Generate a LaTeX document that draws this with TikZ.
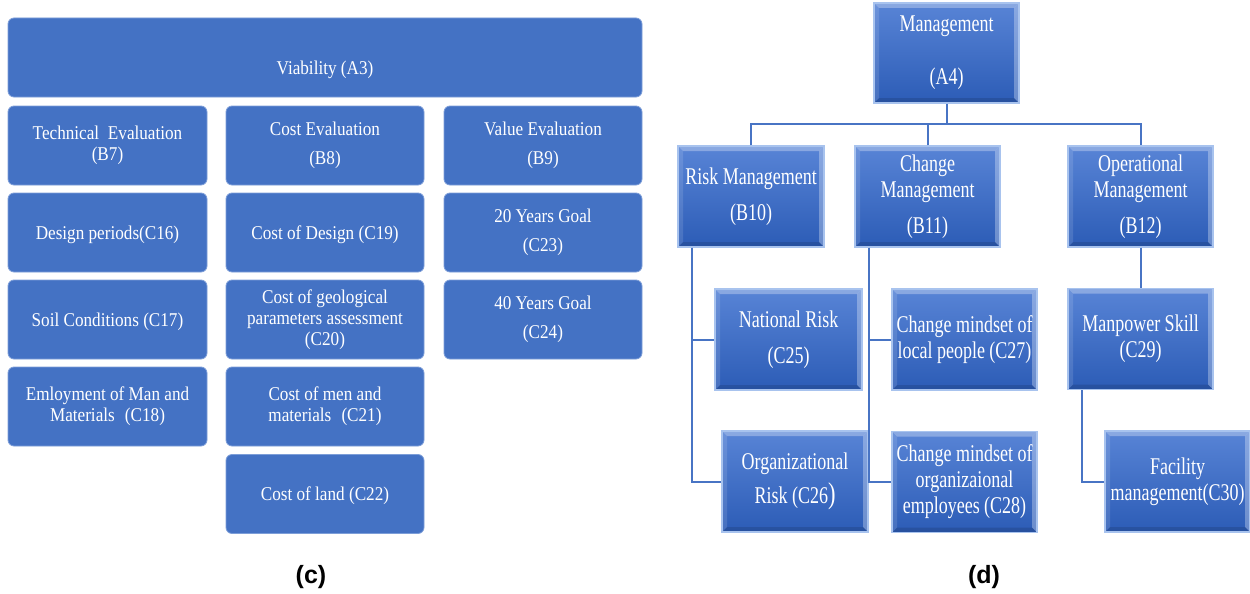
\documentclass[tikz,border=0pt]{standalone}
\usepackage{fontspec}
\setmainfont{Liberation Serif}
\newfontfamily\narrowserif[FakeStretch=0.88]{Liberation Serif}
\newfontfamily\condserif[FakeStretch=0.75]{Liberation Serif}
\newfontfamily\capsans{Liberation Sans}

\definecolor{officeblue}{RGB}{68,114,196}
\definecolor{flatedge}{RGB}{125,158,216}
\definecolor{bevtop}{RGB}{88,132,214}
\definecolor{bevbot}{RGB}{44,92,182}
\definecolor{bevedge}{RGB}{168,195,238}
\definecolor{linkblue}{RGB}{72,116,196}

\tikzset{
  flatbox/.style={fill=officeblue, draw=flatedge, line width=0.8pt,
    rounded corners=6pt, text=white, align=center, inner sep=0pt,
    font=\narrowserif\fontsize{19.5}{21}\selectfont,
    execute at begin node={\rule{0pt}{17.5pt}},
    minimum height=79pt},
  flatlabel/.style={text=white, align=center, inner sep=0pt,
    font=\narrowserif\fontsize{19.5}{21}\selectfont},
  bevelbox/.style={draw=bevedge, line width=1.2pt,
    top color=bevtop, bottom color=bevbot,
    text=white, align=center, inner sep=0pt,
    font=\condserif\fontsize{24}{26}\selectfont,
    execute at begin node={\rule{0pt}{19.5pt}},
    minimum width=145pt, minimum height=101pt,
    path picture={
      % light upper and left bevel faces
      \fill[white,opacity=0.30] (path picture bounding box.north west)
        -- (path picture bounding box.north east)
        -- ([xshift=-5pt,yshift=-5pt]path picture bounding box.north east)
        -- ([xshift=5pt,yshift=-5pt]path picture bounding box.north west) -- cycle;
      \fill[white,opacity=0.12] (path picture bounding box.north west)
        -- ([xshift=5pt,yshift=-5pt]path picture bounding box.north west)
        -- ([xshift=5pt,yshift=5pt]path picture bounding box.south west)
        -- (path picture bounding box.south west) -- cycle;
      % darker lower face, bright right face
      \fill[black,opacity=0.12] (path picture bounding box.south west)
        -- (path picture bounding box.south east)
        -- ([xshift=-5pt,yshift=5pt]path picture bounding box.south east)
        -- ([xshift=5pt,yshift=5pt]path picture bounding box.south west) -- cycle;
      \fill[white,opacity=0.30] (path picture bounding box.north east)
        -- (path picture bounding box.south east)
        -- ([xshift=-5pt,yshift=5pt]path picture bounding box.south east)
        -- ([xshift=-5pt,yshift=-5pt]path picture bounding box.north east) -- cycle;
    }},
  conn/.style={draw=linkblue, line width=2pt},
  caption/.style={font=\capsans\bfseries\fontsize{25}{28}\selectfont, inner sep=0pt}
}

\begin{document}
\begin{tikzpicture}[x=1pt,y=-1pt]
\useasboundingbox[fill=white] (0,0) rectangle (1250,594);

% ---------- panel (c): viability breakdown ----------
\node[flatbox, minimum width=634pt,
      label={[flatlabel,yshift=-12.5pt]center:Viability (A3)}] (a3) at (325,57.5) {};

\node[flatbox, minimum width=199pt] (b7) at (107.5,145.5) {Technical\hspace{0.45em}Evaluation\\(B7)};
\node[flatbox, minimum width=198pt] (b8) at (325,145.5) {Cost Evaluation\\[8pt](B8)};
\node[flatbox, minimum width=198pt] (b9) at (543,145.5) {Value Evaluation\\[8pt](B9)};

\node[flatbox, minimum width=199pt] (c16) at (107.5,232.5) {Design periods(C16)};
\node[flatbox, minimum width=198pt] (c19) at (325,232.5) {Cost of Design (C19)};
\node[flatbox, minimum width=198pt] (c23) at (543,232.5) {20 Years Goal\\[8pt](C23)};

\node[flatbox, minimum width=199pt] (c17) at (107.5,319.5) {Soil Conditions (C17)};
\node[flatbox, minimum width=198pt] (c20) at (325,319.5) {Cost of geological\\parameters assessment\\(C20)};
\node[flatbox, minimum width=198pt] (c24) at (543,319.5) {40 Years Goal\\[8pt](C24)};

\node[flatbox, minimum width=199pt] (c18) at (107.5,406.5) {Emloyment of Man and\\Materials\hspace{0.3em} (C18)};
\node[flatbox, minimum width=198pt] (c21) at (325,406.5) {Cost of men and\\materials\hspace{0.3em} (C21)};

\node[flatbox, minimum width=198pt] (c22) at (325,494) {Cost of land (C22)};

\node[caption] (capc) at (311,577) {(c)};

% ---------- panel (d): management hierarchy ----------
\node[bevelbox, minimum height=100pt] (a4) at (946.5,53) {Management\\[27pt](A4)};

\node[bevelbox, minimum width=146pt] (b10) at (751,196.5) {Risk Management\\[10pt](B10)};
\node[bevelbox] (b11) at (927.5,196.5) {Change\\Management\\[10pt](B11)};
\node[bevelbox] (b12) at (1140.5,196.5) {Operational\\Management\\[10pt](B12)};

\node[bevelbox, minimum width=147pt] (c25) at (788.5,339.5) {National Risk\\[10pt](C25)};
\node[bevelbox, minimum width=146pt] (c26) at (795,481.5) {Organizational\\[8pt]Risk (C26{\fontsize{30}{26}\selectfont )}};
\node[bevelbox] (c27) at (964.5,339.5) {Change mindset of\\local people (C27)};
\node[bevelbox] (c28) at (964.5,482) {Change mindset of\\organizaional\\employees (C28)};
\node[bevelbox] (c29) at (1140.5,339) {Manpower Skill\\(C29)};
\node[bevelbox] (c30) at (1177.5,481.5) {Facility\\management(C30)};

\node[caption] (capd) at (984,577) {(d)};

% top-level bus
\coordinate (bus) at (947,124);
\draw[conn] (a4.south) -- (a4.south |- bus);
\draw[conn] (b10.north) -- (b10.north |- bus) -- (b12.north |- bus) -- (b12.north);
\draw[conn] (b11.north) -- (b11.north |- bus);

% child spines
\coordinate (s10) at ([xshift=15pt]b10.south west);
\coordinate (s11) at ([xshift=15pt]b11.south west);
\coordinate (s29) at ([xshift=15pt]c29.south west);
\draw[conn] (s10) |- (c25.west);
\draw[conn] (s10) |- (c26.west);
\draw[conn] (s11) |- (c27.west);
\draw[conn] (s11) |- (c28.west);
\draw[conn] (b12.south) -- (c29.north);
\draw[conn] (s29) |- (c30.west);
\end{tikzpicture}
\end{document}
